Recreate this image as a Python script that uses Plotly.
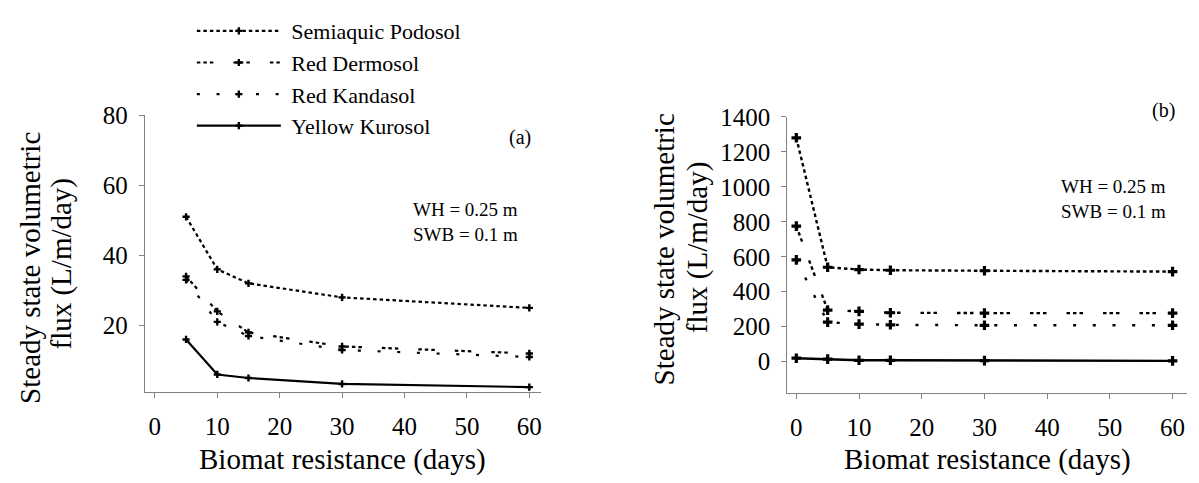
import plotly.graph_objects as go

# ---------------- data ----------------
series_names = ["Semiaquic Podosol", "Red Dermosol", "Red Kandasol", "Yellow Kurosol"]

# panel (a)
x_a = [5, 10, 15, 30, 60]
podosol_a = [51, 36, 32, 28, 25]
dermosol_a = [34, 24, 18, 14, 12]
kandasol_a = [33, 21, 17, 13, 11]
kurosol_a = [16, 6, 5, 3.3, 2.4]

# panel (b)
x_b = [0, 5, 10, 15, 30, 60]
podosol_b = [1280, 540, 527, 523, 520, 515]
dermosol_b = [775, 295, 288, 280, 278, 278]
kandasol_b = [582, 226, 215, 211, 208, 208]
kurosol_b = [20, 15, 8, 8, 6, 5]

x_ticks = [0, 10, 20, 30, 40, 50, 60]
y_ticks_a = [20, 40, 60, 80]
y_ticks_b = [0, 200, 400, 600, 800, 1000, 1200, 1400]

# ---------------- styling ----------------
FONT = "Liberation Serif, Times New Roman, serif"
W, H = 1199, 483
dashes = ["3.5px,3px", "3.5px,3px,3.5px,3px,3.5px,20px", "3px,16.7px", "solid"]
values_a = [podosol_a, dermosol_a, kandasol_a, kurosol_a]
values_b = [podosol_b, dermosol_b, kandasol_b, kurosol_b]
NB = "\u00a0"

fig = go.Figure()
for name, dash, ya, yb in zip(series_names, dashes, values_a, values_b):
    fig.add_trace(go.Scatter(
        x=x_a, y=ya, name=NB + name, legendgroup=name, mode="lines+markers",
        line=dict(color="black", width=2.2, dash=dash),
        marker=dict(symbol="cross", size=6, color="black"),
        xaxis="x", yaxis="y", cliponaxis=False))
    fig.add_trace(go.Scatter(
        x=x_b, y=yb, name=name, legendgroup=name, showlegend=False,
        mode="lines+markers",
        line=dict(color="black", width=2.4, dash=dash),
        marker=dict(symbol="cross", size=8, color="black"),
        xaxis="x2", yaxis="y2", cliponaxis=False))

def px(x):
    return x / W

def py(y):
    return 1 - y / H

axis_common = dict(showgrid=False, zeroline=False, showline=True,
                   linecolor="#808080", linewidth=1.3, ticks="outside",
                   ticklen=5, tickcolor="#808080", tickwidth=1.2,
                   tickfont=dict(family=FONT, size=25, color="black"))

fig.update_layout(
    width=W, height=H,
    margin=dict(l=0, r=0, t=0, b=0),
    paper_bgcolor="white", plot_bgcolor="white",
    font=dict(family=FONT, color="black"),
    xaxis=dict(domain=[px(145), px(541)], range=[-1.6, 61.8],
               tickvals=x_ticks, anchor="y", ticklabelstandoff=7, **axis_common),
    yaxis=dict(domain=[py(389.3), py(105)], range=[1.05, 80],
               tickvals=y_ticks_a, anchor="x", ticklabelstandoff=6, **axis_common),
    xaxis2=dict(domain=[px(788), px(1188)], range=[-1.43, 62.3],
                tickvals=x_ticks, anchor="y2", ticklabelstandoff=7, **axis_common),
    yaxis2=dict(domain=[py(390.7), py(106.7)], range=[-180, 1400],
                tickvals=y_ticks_b, anchor="x2", ticklabelstandoff=6, **axis_common),
    legend=dict(x=px(192), y=1 + 3 / H, xanchor="left", yanchor="top",
                font=dict(family=FONT, size=22, color="black"),
                bgcolor="rgba(0,0,0,0)", itemwidth=84, tracegroupgap=0),
    showlegend=True,
)

ann = []
def text(x, y, s, size, angle=0, xanchor="center", align="center"):
    ann.append(dict(x=px(x), y=py(y), xref="paper", yref="paper", text=s,
                    showarrow=False, textangle=angle, xanchor=xanchor,
                    yanchor="middle", align=align,
                    font=dict(family=FONT, size=size, color="black")))

# axis titles
text(343, 459, "Biomat resistance (days)", 29)
text(988, 459, "Biomat resistance (days)", 29)
text(30, 262, "Steady state volumetric", 29, angle=-90)
text(62, 257.5, "flux (L/m/day)", 29, angle=-90)
text(665, 242.5, "Steady state volumetric", 29, angle=-90)
text(697.7, 240.5, "flux (L/m/day)", 29, angle=-90)
# panel labels & parameters
text(520, 128, "(a)", 20)
text(1164, 100, "(b)", 20)
text(411, 215, "WH = 0.25 m<br>SWB = 0.1 m", 19, xanchor="left", align="left")
text(1060, 191.5, "WH = 0.25 m<br>SWB = 0.1 m", 19, xanchor="left", align="left")
fig.update_layout(annotations=ann)

fig.write_html("out.html", config={"displayModeBar": False},
               post_script="document.body.style.margin='0px';")
